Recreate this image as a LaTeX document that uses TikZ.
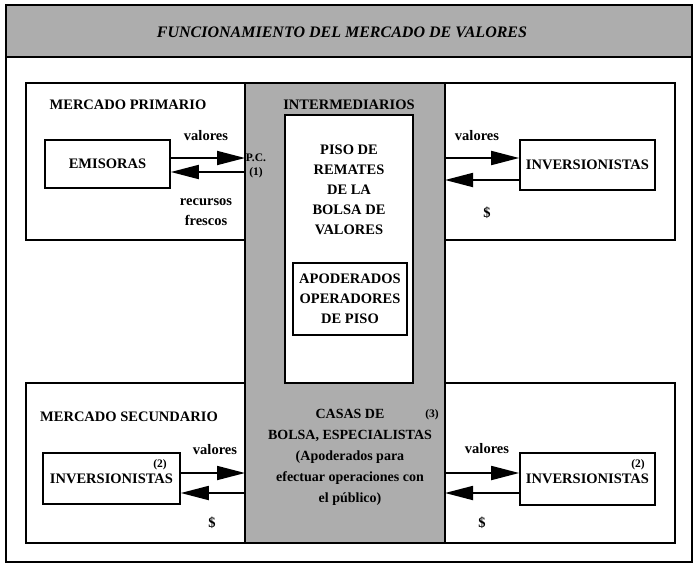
\documentclass[tikz,border=0pt]{standalone}
\usepackage{fontspec}
\setmainfont{Liberation Serif}
\usetikzlibrary{arrows.meta, positioning, calc}

\begin{document}
\begin{tikzpicture}[x=1pt, y=-1pt,
    panel/.style={draw, line width=1.4pt},
    box/.style={draw, line width=1.6pt, inner sep=0pt, align=center,
        font=\fontsize{14.5}{20}\selectfont\bfseries},
    lbl/.style={inner sep=1pt, align=center,
        font=\fontsize{14.5}{20}\selectfont\bfseries},
    small/.style={inner sep=1pt, align=center,
        font=\fontsize{11.5}{14}\selectfont\bfseries},
    flow/.style={line width=1.8pt, -{Triangle[length=28pt, width=14pt]}},
    shade/.style={fill=black!32}]
\useasboundingbox (0,0) rectangle (694,574);

% Outer frame and title band
\draw[line width=1.6pt] (6,5) rectangle (692,562);
\draw[shade, line width=1.6pt] (6,5) rectangle (692,57);
\node[lbl, font=\fontsize{16}{18}\selectfont\bfseries\itshape] (title) at (342,32)
    {FUNCIONAMIENTO DEL MERCADO DE VALORES};

% Intermediaries column
\draw[shade, line width=1.4pt] (245,83) rectangle (445,543);
\draw[panel, fill=white] (285,115) rectangle (413,383);

% Market panels
\draw[panel] (26,83) rectangle (245,240);
\draw[panel] (445,83) rectangle (675,240);
\draw[panel] (26,383) rectangle (245,543);
\draw[panel] (445,383) rectangle (675,543);

% Primary market
\node[lbl] (prim) at (128,105) {MERCADO PRIMARIO};
\node[box, minimum width=125pt, minimum height=48pt] (emi) at (107.5,164) {EMISORAS};
\node[lbl] (val1) at (206,136) {valores};
\node[lbl] (rec) at (206,212) {recursos\\frescos};
\node[small] (pc) at (256,166) {P.C.\\(1)};
\node[box, minimum width=135pt, minimum height=50pt] (inv1) at (587.5,165) {INVERSIONISTAS};
\node[lbl] (val2) at (477,136) {valores};
\node[lbl] (dol1) at (487,213) {\$};

% Intermediaries
\node[lbl] (inter) at (349,105) {INTERMEDIARIOS};
\node[lbl] (piso) at (349,190) {PISO DE\\REMATES\\DE LA\\BOLSA DE\\VALORES};
\node[box, minimum width=114pt, minimum height=72pt] (apod) at (350,299)
    {APODERADOS\\OPERADORES\\DE PISO};
\node[lbl, font=\fontsize{14}{21}\selectfont\bfseries] (casas) at (350,457)
    {CASAS DE\\BOLSA, ESPECIALISTAS\\(Apoderados para\\efectuar operaciones con\\el público)};
\node[small] (n3) at (432,415) {(3)};

% Secondary market
\node[lbl] (sec) at (129,417) {MERCADO SECUNDARIO};
\node[box, minimum width=137pt, minimum height=51pt] (inv2) at (111.5,478.5) {INVERSIONISTAS};
\node[small] (n2a) at (160,465) {(2)};
\node[lbl] (val3) at (215,450) {valores};
\node[lbl] (dol2) at (212,523) {\$};
\node[box, minimum width=135pt, minimum height=52pt] (inv3) at (587.5,479) {INVERSIONISTAS};
\node[small] (n2b) at (638,465) {(2)};
\node[lbl] (val4) at (487,449) {valores};
\node[lbl] (dol3) at (482,523) {\$};

% Flows
\coordinate (pcin) at (245,158);
\coordinate (pcout) at (245,172);
\coordinate (r1) at (445,158);
\coordinate (r2) at (445,180);
\coordinate (l3) at (245,473);
\coordinate (l4) at (245,493);
\coordinate (r3) at (445,473);
\coordinate (r4) at (445,493);
\draw[flow] (emi.east |- pcin) -- (pcin);
\draw[flow] (pcout) -- (emi.east |- pcout);
\draw[flow] (r1) -- (r1 -| inv1.west);
\draw[flow] (inv1.west |- r2) -- (r2);
\draw[flow] (inv2.east |- l3) -- (l3);
\draw[flow] (l4) -- (inv2.east |- l4);
\draw[flow] (r3) -- (r3 -| inv3.west);
\draw[flow] (inv3.west |- r4) -- (r4);
\end{tikzpicture}
\end{document}
